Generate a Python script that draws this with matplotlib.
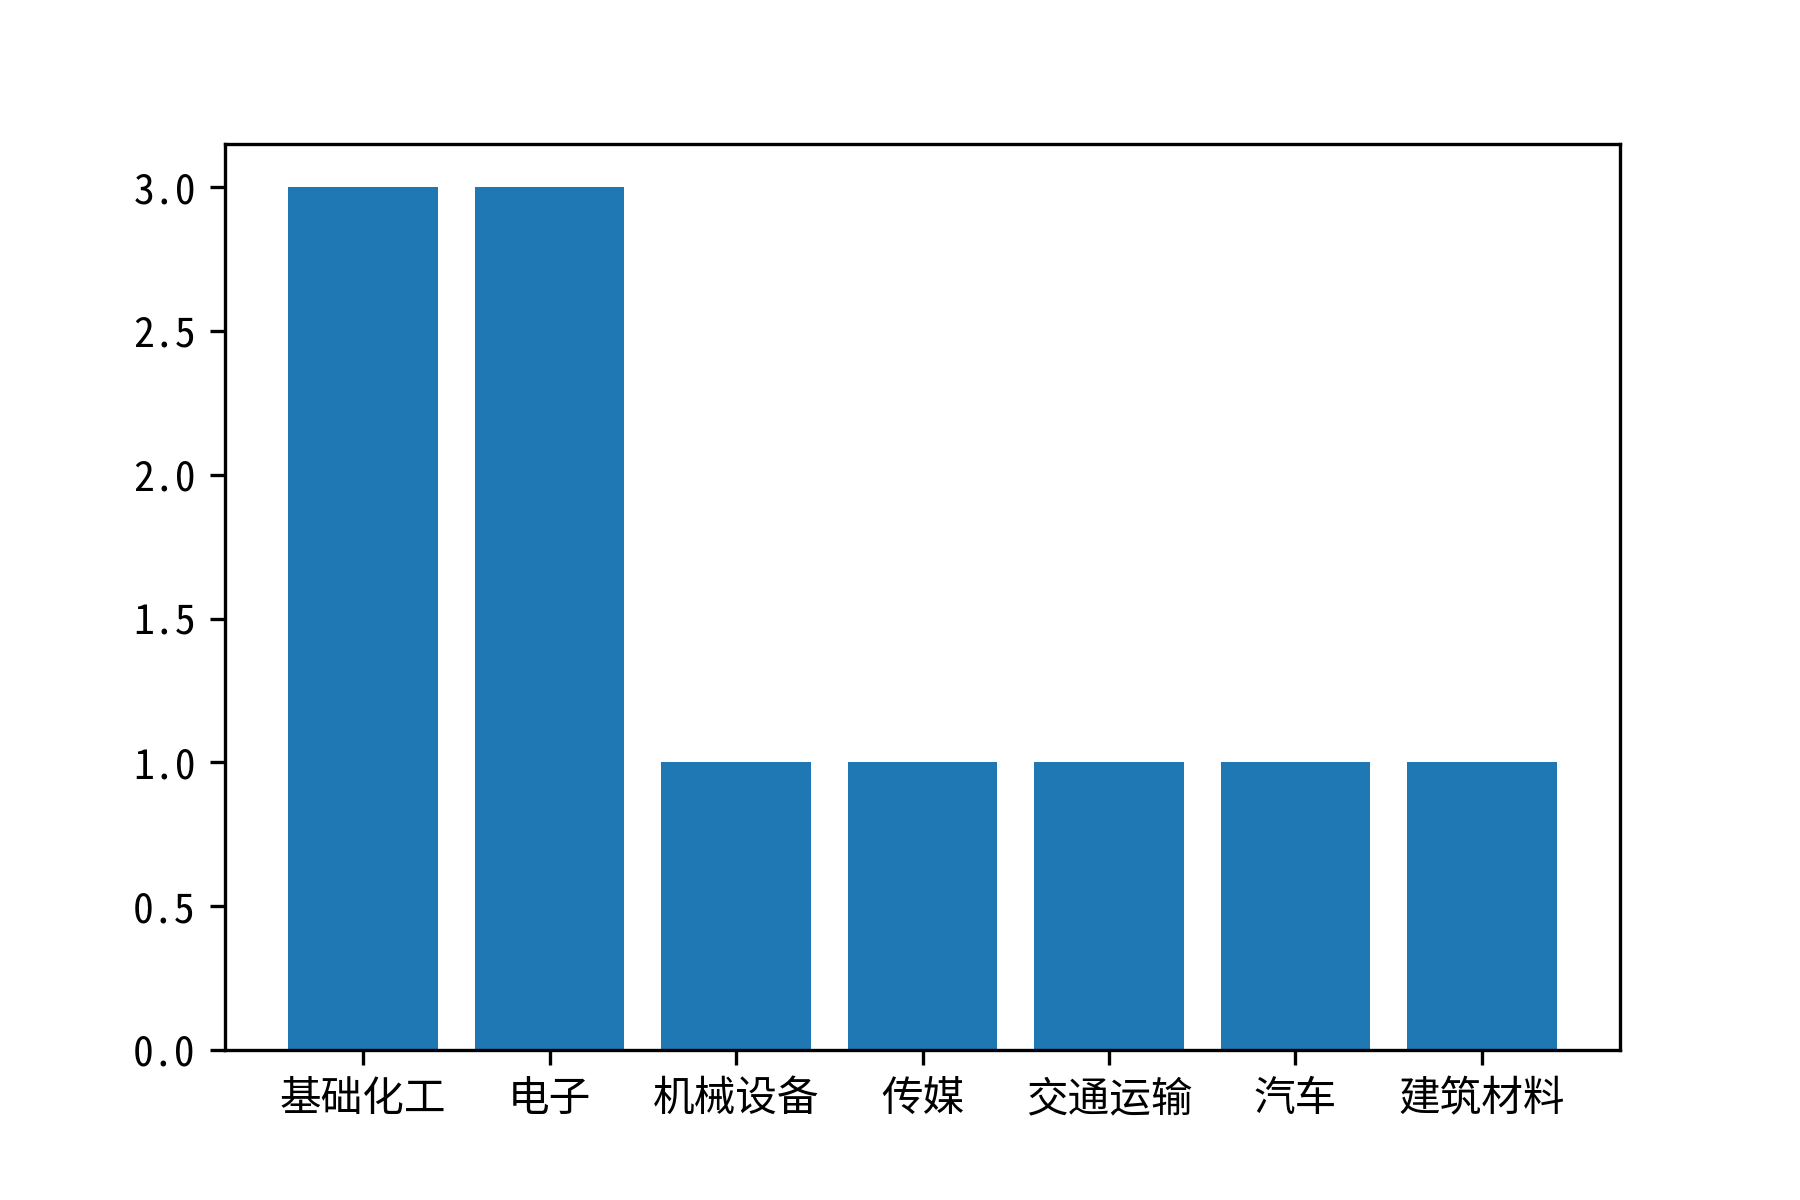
import matplotlib
matplotlib.use("Agg")
import matplotlib.pyplot as plt

plt.rcParams['font.family'] = ['Noto Sans CJK SC', 'DejaVu Sans']
plt.rcParams['axes.unicode_minus'] = False

industries = ["基础化工", "电子", "机械设备", "传媒", "交通运输", "汽车", "建筑材料"]
counts = [3, 3, 1, 1, 1, 1, 1]

fig = plt.figure(figsize=(6, 4), dpi=300)
ax = fig.add_subplot(111)
fig.subplots_adjust(bottom=0.125)
ax.bar(industries, counts, color='#1f77b4')

# the digits in the original are half-width (SimHei-like)
for lab in ax.get_yticklabels():
    lab.set_family(['Noto Sans Mono CJK SC', 'DejaVu Sans Mono'])

fig.savefig("out.png", dpi=300)
